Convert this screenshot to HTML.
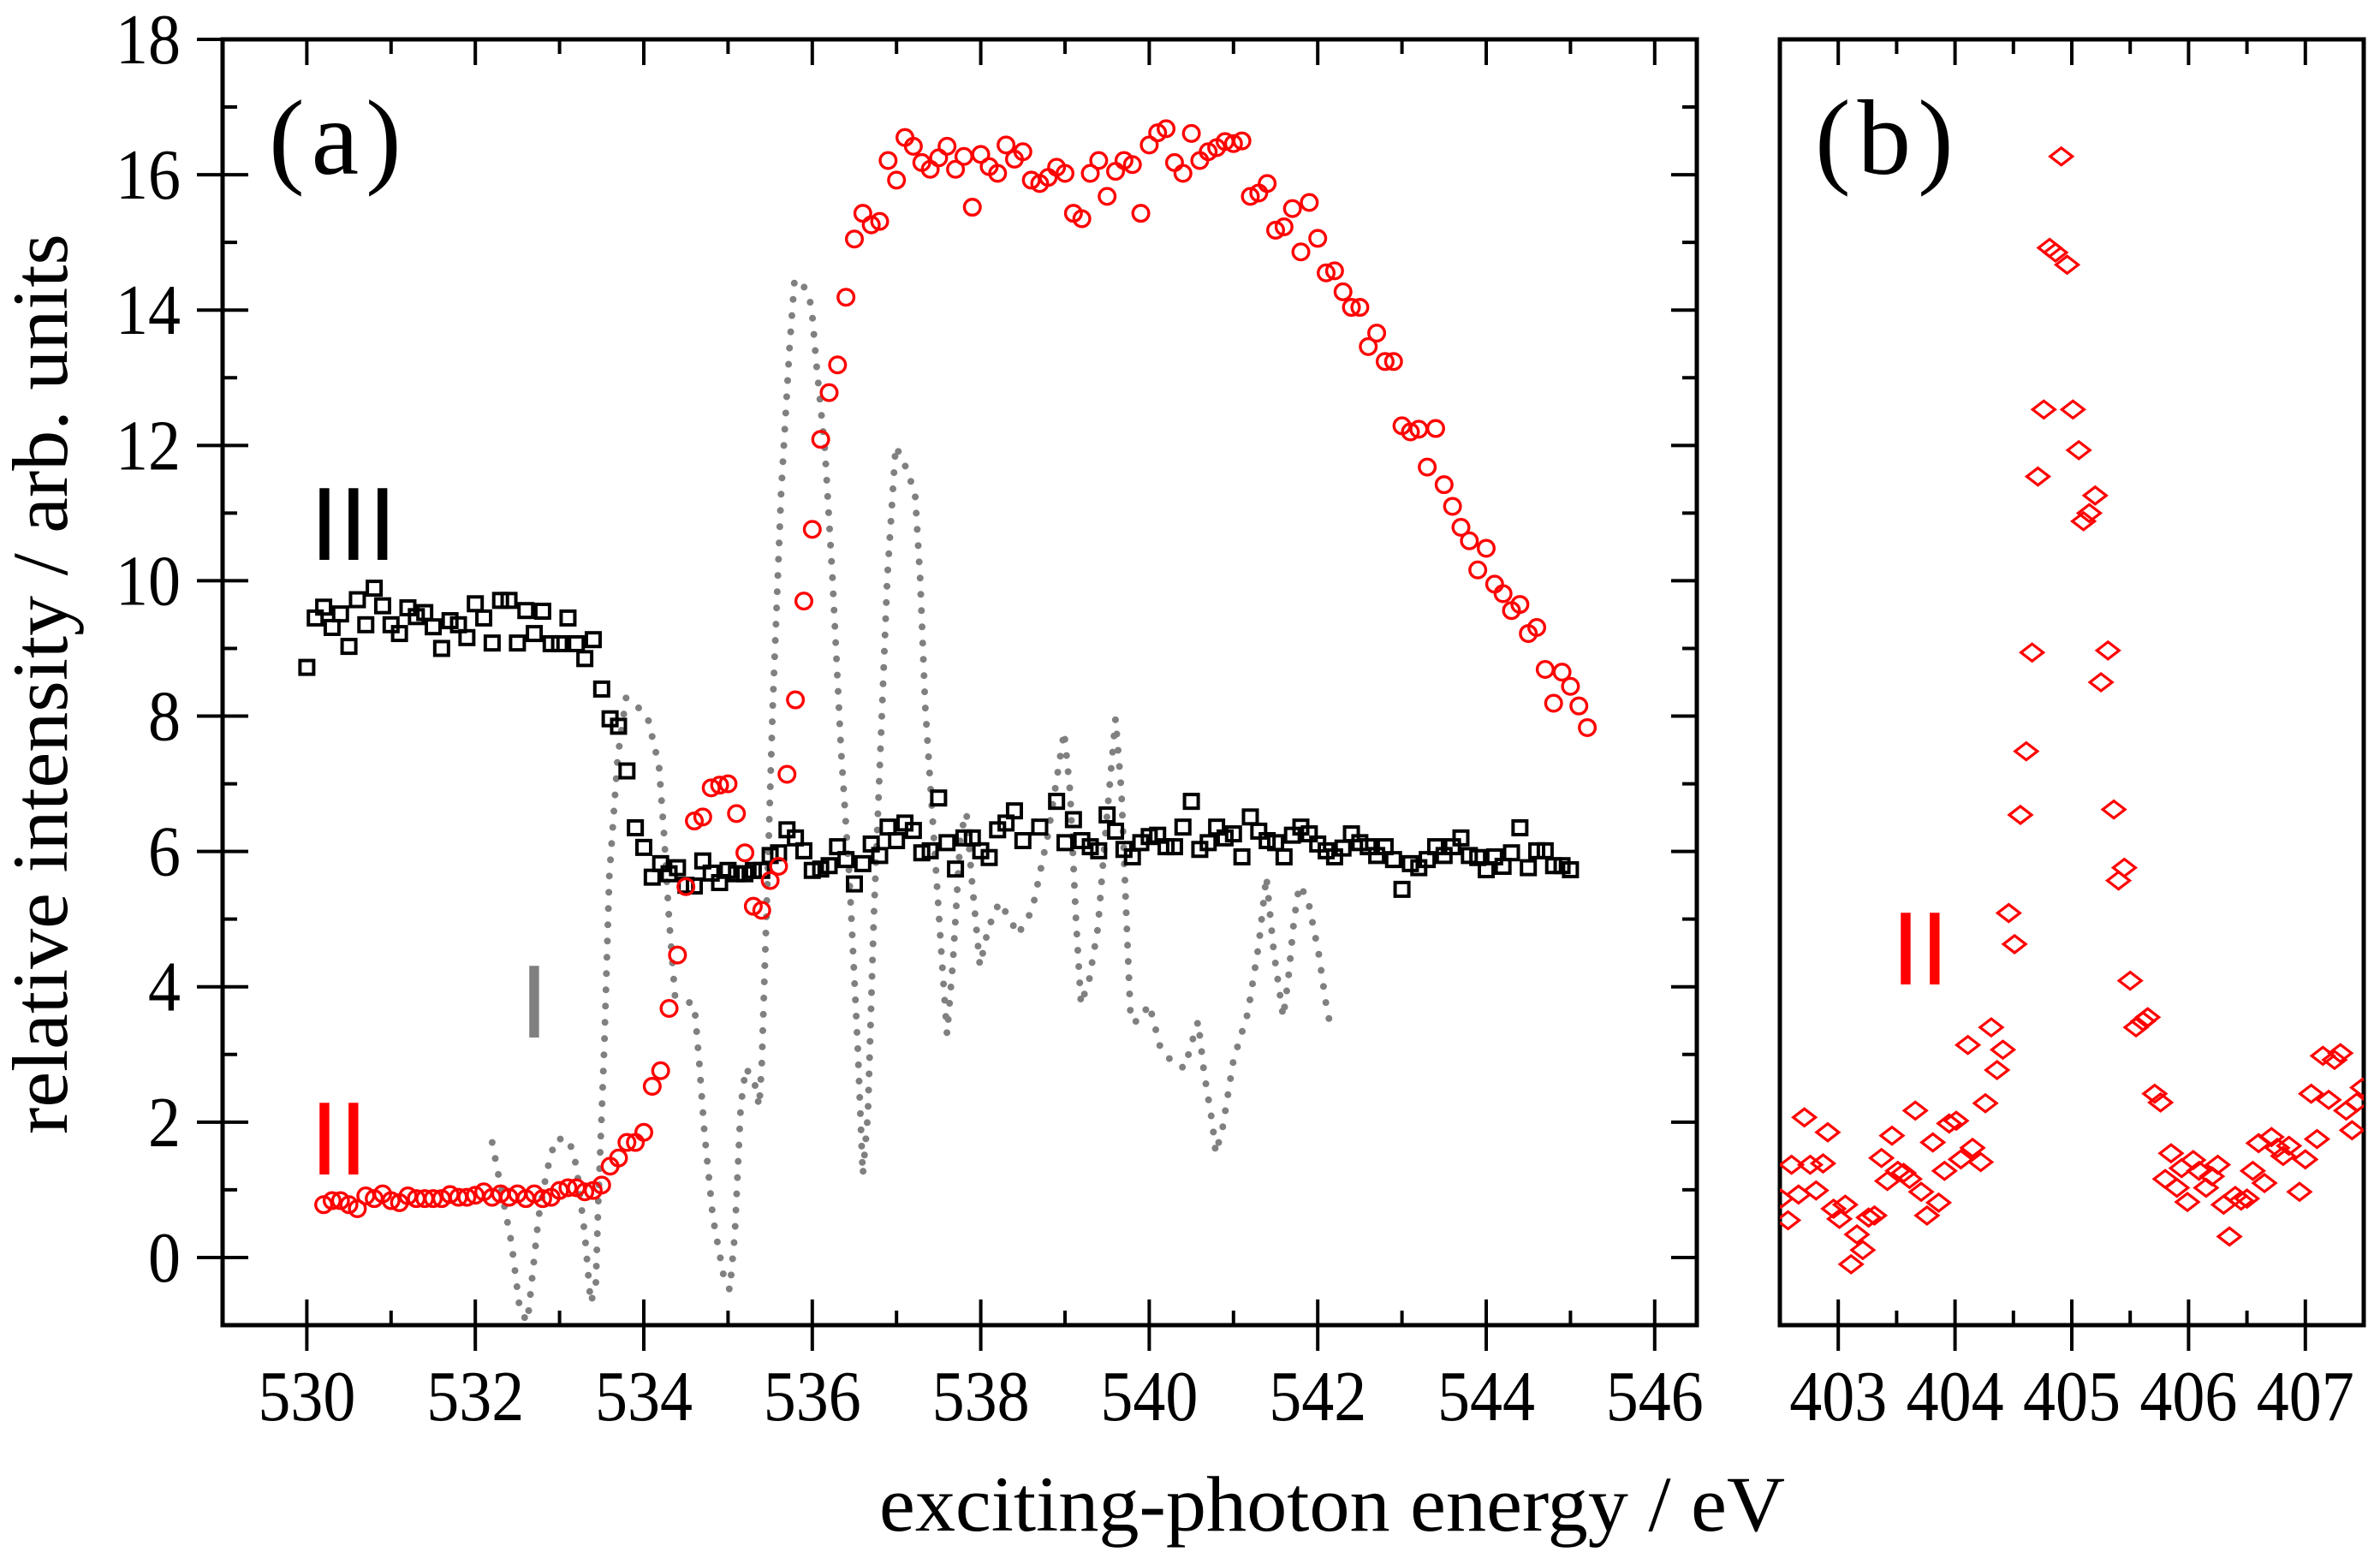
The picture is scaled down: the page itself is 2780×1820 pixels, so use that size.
<!DOCTYPE html>
<html><head><meta charset="utf-8">
<style>html,body{margin:0;padding:0;background:#fff}svg{display:block}</style>
</head><body>
<svg id="chart" xmlns="http://www.w3.org/2000/svg" width="2780" height="1820" viewBox="0 0 2780 1820" font-family="'Liberation Serif', serif">
<rect width="2780" height="1820" fill="#fff"/>
<g id="pa"></g>
<g id="pb"></g>
<text x="1556" y="1788" font-size="92" text-anchor="middle" textLength="1058" lengthAdjust="spacingAndGlyphs">exciting-photon energy / eV</text>
<text transform="translate(78,799) rotate(-90)" font-size="92" text-anchor="middle" textLength="1052" lengthAdjust="spacingAndGlyphs">relative intensity / arb. units</text>
<text x="314" y="203" font-size="125" letter-spacing="8">(a)</text>
<text x="2120" y="203" font-size="125" letter-spacing="8">(b)</text>
<text x="362" y="654" font-size="122" font-family="'Liberation Sans', sans-serif" fill="#000">III</text>
<text x="362" y="1372" font-size="122" font-family="'Liberation Sans', sans-serif" fill="#ff0000">II</text>
<text x="607" y="1212" font-size="122" font-family="'Liberation Sans', sans-serif" fill="#808080">I</text>
<text x="2209" y="1150" font-size="122" font-family="'Liberation Sans', sans-serif" fill="#ff0000">II</text>
</svg>
<script>
// ---- data ----
const redX = [530.2,530.3,530.4,530.5,530.6,530.7,530.8,530.9,531.0,531.1,531.2,531.3,531.4,531.5,531.6,531.7,531.8,531.9,532.0,532.1,532.2,532.3,532.4,532.5,532.6,532.7,532.8,532.9,533.0,533.1,533.2,533.3,533.4,533.5,533.6,533.7,533.8,533.9,534.0,534.1,534.2,534.3,534.4,534.5,534.6,534.7,534.8,534.9,535.0,535.1,535.2,535.3,535.4,535.5,535.6,535.7,535.8,535.9,536.0,536.1,536.2,536.3,536.4,536.5,536.6,536.7,536.8,536.9,537.0,537.1,537.2,537.3,537.4,537.5,537.6,537.7,537.8,537.9,538.0,538.1,538.2,538.3,538.4,538.5,538.6,538.7,538.8,538.9,539.0,
539.1,539.2,539.3,539.4,539.5,539.6,539.7,539.8,539.9,540.0,540.1,540.2,540.3,540.4,540.5,540.6,540.7,540.8,540.9,541.0,541.1,541.2,541.3,541.4,541.5,541.6,541.7,541.8,541.9,542.0,542.1,542.2,542.3,542.4,542.5,542.6,542.7,542.8,542.9,543.0,543.1,543.2,543.3,543.4,543.5,543.6,543.7,543.8,543.9,544.0,544.1,544.2,544.3,544.4,544.5,544.6,544.7,544.8,544.9,545.0,545.1,545.2];
const redY = [0.78,0.84,0.84,0.78,0.72,0.91,0.87,0.94,0.84,0.81,0.91,0.87,0.87,0.87,0.87,0.93,0.89,0.89,0.92,0.97,0.89,0.94,0.89,0.94,0.87,0.94,0.87,0.89,0.99,1.03,1.03,0.97,0.99,1.07,1.35,1.47,1.70,1.70,1.85,2.53,2.76,3.68,4.47,5.48,6.45,6.51,6.94,6.98,7.00,6.56,5.98,5.19,5.13,5.57,5.78,7.14,8.24,9.70,10.76,12.09,12.78,13.19,14.19,15.05,15.43,15.26,15.31,16.21,15.92,16.55,16.42,16.18,16.08,16.25,16.42,16.08,16.27,15.52,16.30,16.12,16.02,16.44,16.23,16.34,15.92,15.87,15.96,16.11,16.02,
15.43,15.35,16.02,16.21,15.68,16.05,16.21,16.15,15.43,16.44,16.62,16.68,16.18,16.02,16.61,16.21,16.34,16.40,16.49,16.46,16.50,15.68,15.73,15.87,15.18,15.23,15.50,14.86,15.59,15.06,14.55,14.58,14.27,14.04,14.04,13.46,13.66,13.24,13.24,12.29,12.20,12.24,11.68,12.25,11.42,11.10,10.79,10.59,10.16,10.48,9.95,9.81,9.56,9.65,9.22,9.31,8.69,8.19,8.65,8.44,8.15,7.83];
const blackX = [530.0,530.1,530.2,530.3,530.4,530.5,530.6,530.7,530.8,530.9,531.0,531.1,531.2,531.3,531.4,531.5,531.6,531.7,531.8,531.9,532.0,532.1,532.2,532.3,532.4,532.5,532.6,532.7,532.8,532.9,533.0,533.1,533.2,533.3,533.4,533.5,533.6,533.7,533.8,533.9,534.0,534.1,534.2,534.3,534.4,534.5,534.6,534.7,534.8,534.9,535.0,535.1,535.2,535.3,535.4,535.5,535.6,535.7,535.8,535.9,536.0,536.1,536.2,536.3,536.4,536.5,536.6,536.7,536.8,536.9,537.0,537.1,537.2,537.3,537.4,537.5,537.6,537.7,537.8,537.9,538.0,538.1,538.2,538.3,538.4,538.5,538.7,538.9,
539.0,539.1,539.2,539.3,539.4,539.5,539.6,539.7,539.8,539.9,540.0,540.1,540.2,540.3,540.4,540.5,540.6,540.7,540.8,540.9,541.0,541.1,541.2,541.3,541.4,541.5,541.6,541.7,541.8,541.9,542.0,542.1,542.2,542.3,542.4,542.5,542.6,542.7,542.8,542.9,543.0,543.1,543.2,543.3,543.4,543.5,543.6,543.7,543.8,543.9,544.0,544.1,544.2,544.3,544.4,544.5,544.6,544.7,544.8,544.9,545.0];
const blackY = [8.72,9.45,9.61,9.31,9.51,9.03,9.72,9.35,9.89,9.63,9.35,9.22,9.60,9.47,9.53,9.32,9.00,9.41,9.35,9.16,9.66,9.45,9.08,9.71,9.71,9.08,9.56,9.22,9.55,9.07,9.07,9.45,9.07,8.85,9.13,8.40,7.96,7.85,7.19,6.35,6.06,5.62,5.82,5.67,5.76,5.50,5.49,5.86,5.68,5.54,5.72,5.67,5.67,5.72,5.72,5.94,5.98,6.32,6.20,6.01,5.72,5.74,5.79,6.07,5.88,5.52,5.82,6.11,5.94,6.36,6.16,6.42,6.31,5.98,6.01,6.79,6.13,5.74,6.20,6.20,6.01,5.91,6.32,6.42,6.60,6.16,6.36,6.74,
6.13,6.47,6.16,6.07,6.01,6.54,6.30,6.03,5.92,6.13,6.22,6.24,6.07,6.07,6.36,6.74,6.03,6.13,6.36,6.20,6.26,5.92,6.51,6.30,6.16,6.13,5.92,6.24,6.36,6.26,6.11,6.01,5.92,6.05,6.26,6.13,6.07,5.94,6.07,5.88,5.44,5.82,5.76,5.88,6.07,5.94,6.07,6.20,5.94,5.91,5.73,5.92,5.78,5.98,6.35,5.76,6.01,6.01,5.79,5.79,5.73];
const grayX = [532.20,532.43,532.53,532.62,532.75,532.85,532.95,533.11,533.20,533.30,533.37,533.43,533.46,533.53,533.59,533.69,533.79,533.92,534.05,534.18,534.24,534.30,534.37,534.47,534.60,534.66,534.72,534.82,534.95,535.02,535.08,535.15,535.21,535.31,535.37,535.40,535.47,535.53,535.63,535.73,535.79,535.89,535.99,536.05,536.15,536.24,536.34,536.44,536.54,536.60,536.66,536.73,536.79,536.89,536.99,537.09,537.22,537.28,537.34,537.44,537.54,537.60,537.67,537.76,537.83,537.89,537.99,538.09,538.22,538.35,538.44,538.61,538.80,538.99,539.06,539.13,539.19,539.29,539.39,539.48,539.60,539.67,539.73,539.78,539.87,540.00,540.13,540.29,540.42,540.52,540.58,540.65,540.75,540.79,540.87,541.00,541.17,541.30,541.39,541.48,541.59,541.65,541.72,541.78,541.88,542.01,542.10,542.17];
const grayY = [1.70,0.21,-0.79,-0.95,0.59,1.28,1.75,1.75,1.35,0.34,-0.67,-0.42,0.84,3.11,5.63,7.39,8.27,8.15,7.96,7.27,6.26,5.00,3.87,3.80,3.74,2.86,1.85,0.59,-0.29,-0.48,0.34,2.23,2.80,2.61,2.23,2.86,5.63,8.15,11.30,13.44,14.45,14.38,14.07,13.19,11.93,10.04,7.52,5.63,3.11,1.22,2.10,5.00,6.89,10.04,11.99,11.74,11.30,10.04,8.15,6.26,4.37,3.30,4.37,6.26,6.57,5.63,4.31,4.87,5.25,5.00,4.77,5.13,6.26,7.77,6.89,5.00,3.74,4.12,4.87,6.26,7.96,6.89,5.00,3.49,3.49,3.74,3.11,2.86,2.80,3.24,3.49,2.73,1.98,1.54,1.91,2.92,3.61,4.62,5.63,4.50,3.55,4.12,5.00,5.50,5.31,4.50,3.74,3.30];
const diaX = [402.51,402.57,402.60,402.66,402.71,402.76,402.81,402.87,402.91,402.96,403.01,403.06,403.11,403.16,403.21,403.26,403.31,403.37,403.42,403.46,403.51,403.56,403.61,403.66,403.71,403.76,403.81,403.86,403.91,403.95,404.01,404.05,404.11,404.15,404.22,404.26,404.31,404.36,404.41,404.46,404.51,404.56,404.61,404.66,404.71,404.76,404.81,404.86,404.91,404.96,405.01,405.06,405.10,405.15,405.20,405.25,405.31,405.36,405.40,405.45,405.50,405.55,405.61,405.65,405.71,405.76,405.80,405.85,405.90,405.94,405.99,406.04,406.09,406.15,406.20,406.25,406.30,406.35,406.40,406.45,406.50,406.55,406.60,406.65,406.71,406.76,406.81,406.86,406.95,407.00,407.05,407.10,407.15,407.20,407.25,407.30,407.35,407.40,407.44,407.49];
const diaY = [0.87,0.55,1.37,0.93,2.07,1.37,0.99,1.39,1.85,0.72,0.57,0.78,-0.10,0.34,0.11,0.59,0.62,1.47,1.13,1.80,1.28,1.25,1.16,2.17,0.97,0.62,1.70,0.81,1.28,1.98,2.02,1.45,3.14,1.62,1.41,2.28,3.40,2.77,3.07,5.09,4.63,6.54,7.48,8.94,11.54,12.53,14.92,14.85,16.27,14.67,12.53,11.93,10.88,11.00,11.26,8.50,8.97,6.62,5.57,5.76,4.09,3.40,3.49,3.55,2.42,2.29,1.16,1.54,1.03,1.32,0.82,1.44,1.28,1.03,1.20,1.37,0.78,0.31,0.91,0.84,0.87,1.28,1.69,1.10,1.78,1.62,1.50,1.65,0.97,1.45,2.42,1.75,2.98,2.33,2.92,3.02,2.17,1.88,2.29,2.51];
const xTicksA = ["530","532","534","536","538","540","542","544","546"];
const yTicks = ["0","2","4","6","8","10","12","14","16","18"];
const xTicksB = ["403","404","405","406","407"];

// ---- layout ----
const NS = "http://www.w3.org/2000/svg";
const A = {x0:260, x1:1982, xmin:529, xmax:546.5};
const B = {x0:2079, x1:2761, xmin:402.5, xmax:407.5};
const Y = {top:46, bot:1548, min:-1, max:18};
function sx(p, v){ return p.x0 + (v - p.xmin) / (p.xmax - p.xmin) * (p.x1 - p.x0); }
function sy(v){ return Y.bot - (v - Y.min) / (Y.max - Y.min) * (Y.bot - Y.top); }
function mk(tag, parent, attrs){ const e = document.createElementNS(NS, tag); for (const k in attrs) e.setAttribute(k, attrs[k]); parent.appendChild(e); return e; }
const pa = document.getElementById('pa'), pb = document.getElementById('pb');

function frame(g, p, yTicksOn){
  const f = mk('rect', g, {x:p.x0, y:Y.top, width:p.x1-p.x0, height:Y.bot-Y.top, fill:'none', stroke:'#000', 'stroke-width':5});
  
  
  const tg = mk('g', g, {stroke:'#000', 'stroke-width':4});
  
  
  for (let v = Math.ceil(p.xmin*2)/2; v <= p.xmax + 1e-9; v += (p === A ? 1 : 0.5)){
    const major = p === A ? (Math.round(v) % 2 === 0) : (Math.abs(v - Math.round(v)) < 1e-6);
    const x = sx(p, v);
    if (x <= p.x0 + 3 || x >= p.x1 - 3) continue;
    const L = major ? 30 : 17;
    mk('line', tg, {x1:x, x2:x, y1:Y.bot - L, y2:Y.bot + (major ? 30 : 0)});
    mk('line', tg, {x1:x, x2:x, y1:Y.top, y2:Y.top + L});
  }
  if (yTicksOn){
    const yg = mk('g', g, {stroke:'#000', 'stroke-width':4});
    
    
    for (let v = Y.min + 1; v <= Y.max - 1; v++){
      const major = v % 2 === 0, y = sy(v), L = major ? 30 : 17;
      mk('line', yg, {x1:p.x0 - (major ? 30 : 0), x2:p.x0 + L, y1:y, y2:y});
      mk('line', yg, {x1:p.x1 - L, x2:p.x1, y1:y, y2:y});
    }
    mk('line', yg, {x1:p.x0 - 30, x2:p.x0, y1:sy(18), y2:sy(18)});
  }
}
frame(pa, A, true);
frame(pb, B, false);

// tick labels (condensed like the original)
xTicksA.forEach(t => {
  const e = mk('text', pa, {x:sx(A, +t), y:1659, 'font-size':84, 'text-anchor':'middle', textLength:t.length*38, lengthAdjust:'spacingAndGlyphs'});
  
  
  e.textContent = t;
});
xTicksB.forEach(t => {
  const e = mk('text', pb, {x:sx(B, +t), y:1659, 'font-size':84, 'text-anchor':'middle', textLength:t.length*38, lengthAdjust:'spacingAndGlyphs'});
  
  
  e.textContent = t;
});
yTicks.forEach(t => {
  const e = mk('text', pa, {x:211, y:sy(+t) + 28, 'font-size':84, 'text-anchor':'end', textLength:t.length*38, lengthAdjust:'spacingAndGlyphs'});
  
  
  e.textContent = t;
});

// clip paths
const defs = mk('defs', document.getElementById('chart'), {});
const ca = mk('clipPath', defs, {id:'clipA'}); mk('rect', ca, {x:A.x0, y:Y.top, width:A.x1-A.x0, height:Y.bot-Y.top});
const cb = mk('clipPath', defs, {id:'clipB'}); mk('rect', cb, {x:B.x0, y:Y.top, width:B.x1-B.x0, height:Y.bot-Y.top});

// series I gray dotted
const gI = mk('g', pa, {'clip-path':'url(#clipA)'});


const d = grayX.map((x, i) => (i ? 'L' : 'M') + sx(A, x).toFixed(1) + ' ' + sy(grayY[i]).toFixed(1)).join(' ');
const line = mk('path', gI, {d:d, fill:'none', stroke:'#808080', 'stroke-width':8, 'stroke-linecap':'round', 'stroke-linejoin':'round', 'stroke-dasharray':'0 19'});



// series III squares
const gIII = mk('g', pa, {fill:'none', stroke:'#000', 'stroke-width':4});


blackX.forEach((x, i) => {
  const r = mk('rect', gIII, {x:sx(A, x) - 8, y:sy(blackY[i]) - 8, width:16, height:16});
  
  
});

// series II circles
const gII = mk('g', pa, {fill:'none', stroke:'#ff0000', 'stroke-width':3.4});


redX.forEach((x, i) => {
  const c = mk('circle', gII, {cx:sx(A, x), cy:sy(redY[i]), r:9.3});
  
  
});

// panel b diamonds
const gD = mk('g', pb, {fill:'none', stroke:'#ff0000', 'stroke-width':3.2, 'clip-path':'url(#clipB)'});


diaX.forEach((x, i) => {
  const cx = sx(B, x), cy = sy(diaY[i]);
  const p = mk('polygon', gD, {points:`${cx-13},${cy} ${cx},${cy-10} ${cx+13},${cy} ${cx},${cy+10}`});
  
  
});
</script>
</body></html>
